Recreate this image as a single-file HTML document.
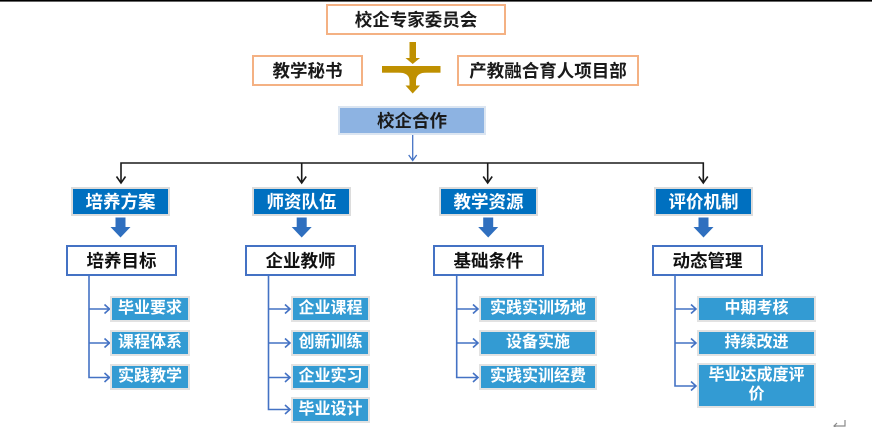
<!DOCTYPE html>
<html>
<head>
<meta charset="utf-8">
<style>
  html,body{margin:0;padding:0;}
  body{width:872px;height:427px;position:relative;background:#fff;overflow:hidden;
    font-family:"Liberation Sans","Noto Sans CJK SC","WenQuanYi Zen Hei",sans-serif;font-weight:bold;}
  .b{position:absolute;box-sizing:border-box;display:flex;align-items:center;justify-content:center;white-space:nowrap;}
  .org{border:2px solid #f4b183;background:#fff;color:#1a1a1a;font-size:17.5px;}
  .coop{border:2px solid #dbe5f1;background:#8db3e2;color:#1a1a1a;font-size:17.5px;}
  .cat{border:2px solid #dcdcdc;background:#0070c0;color:#fff;font-size:17.5px;}
  .l2{border:2px solid #4472c4;background:#fff;color:#111;font-size:17.5px;}
  .leaf{border:2px solid #e2e2e2;background:#339bd3;color:#fff;font-size:16px;line-height:18.5px;text-align:center;}
  svg{position:absolute;left:0;top:0;}
</style>
</head>
<body>
<svg width="872" height="427" viewBox="0 0 872 427">
  <!-- top black line -->
  <rect x="0" y="0" width="872" height="1.6" fill="#000"/>
  <!-- gold arrow -->
  <g fill="#bf9000">
    <rect x="409.5" y="42" width="6.5" height="16.5"/>
    <polygon points="405.5,58 420,58 412.7,64"/>
    <rect x="382" y="66" width="58.5" height="6.7"/>
    <path d="M398 72.5 Q409.5 72.5 409.5 81 L416 81 Q416 72.5 427 72.5 Z"/>
    <rect x="409.5" y="72" width="6.5" height="14"/>
    <polygon points="405.5,85.5 420,85.5 412.7,93.5"/>
  </g>
  <!-- blue thin arrow from 校企合作 -->
  <g stroke="#4472c4" stroke-width="1.3" fill="none">
    <line x1="412.7" y1="135" x2="412.7" y2="160.5"/>
    <polyline points="408.7,155 412.7,160.5 416.7,155"/>
  </g>
  <!-- black connectors -->
  <g stroke="#1a1a1a" stroke-width="1.6" fill="none">
    <polyline points="121,183 121,163 703.3,163 703.3,183"/>
    <line x1="301.7" y1="163" x2="301.7" y2="183"/>
    <line x1="487.7" y1="163" x2="487.7" y2="183"/>
    <polyline points="116.5,176.5 121,183 125.5,176.5"/>
    <polyline points="297.2,176.5 301.7,183 306.2,176.5"/>
    <polyline points="483.2,176.5 487.7,183 492.2,176.5"/>
    <polyline points="698.8,176.5 703.3,183 707.8,176.5"/>
  </g>
  <!-- blue block arrows -->
  <g fill="#2f6fbf">
    <path d="M115.5 217.5 h10 v9.5 h5 l-10 10.5 l-10 -10.5 h5 z"/>
    <path d="M296.7 217.5 h10 v9.5 h5 l-10 10.5 l-10 -10.5 h5 z"/>
    <path d="M483.2 217.5 h10 v9.5 h5 l-10 10.5 l-10 -10.5 h5 z"/>
    <path d="M698.5 217.5 h10 v9.5 h5 l-10 10.5 l-10 -10.5 h5 z"/>
  </g>
  <!-- leaf connectors -->
  <g stroke="#4472c4" stroke-width="1.6" fill="none">
    <polyline points="89,276 89,377.5 109.5,377.5"/>
    <line x1="89" y1="309" x2="109.5" y2="309"/>
    <line x1="89" y1="343" x2="109.5" y2="343"/>
    <polyline points="104.5,304.5 109.5,309 104.5,313.5"/>
    <polyline points="104.5,338.5 109.5,343 104.5,347.5"/>
    <polyline points="104.5,373 109.5,377.5 104.5,382"/>

    <polyline points="268.5,276 268.5,409.5 290,409.5"/>
    <line x1="268.5" y1="309" x2="290" y2="309"/>
    <line x1="268.5" y1="343" x2="290" y2="343"/>
    <line x1="268.5" y1="377.5" x2="290" y2="377.5"/>
    <polyline points="285,304.5 290,309 285,313.5"/>
    <polyline points="285,338.5 290,343 285,347.5"/>
    <polyline points="285,373 290,377.5 285,382"/>
    <polyline points="285,405 290,409.5 285,414"/>

    <polyline points="456.7,276 456.7,377.5 478,377.5"/>
    <line x1="456.7" y1="309" x2="478" y2="309"/>
    <line x1="456.7" y1="343" x2="478" y2="343"/>
    <polyline points="473,304.5 478,309 473,313.5"/>
    <polyline points="473,338.5 478,343 473,347.5"/>
    <polyline points="473,373 478,377.5 473,382"/>

    <polyline points="675,276 675,386 696,386"/>
    <line x1="675" y1="309" x2="696" y2="309"/>
    <line x1="675" y1="343" x2="696" y2="343"/>
    <polyline points="691,304.5 696,309 691,313.5"/>
    <polyline points="691,338.5 696,343 691,347.5"/>
    <polyline points="691,381.5 696,386 691,390.5"/>
  </g>
  <!-- return glyph -->
  <g stroke="#8a8a8a" stroke-width="1.2" fill="none">
    <polyline points="845,420 845,426 834,426"/>
    <polyline points="837,423 834,426 837,429"/>
  </g>
</svg>

<div class="b org" style="left:326px;top:4px;width:180px;height:31px;">校企专家委员会</div>
<div class="b org" style="left:252px;top:55px;width:111px;height:31px;">教学秘书</div>
<div class="b org" style="left:457px;top:55px;width:182px;height:31px;">产教融合育人项目部</div>
<div class="b coop" style="left:338px;top:106px;width:148px;height:29px;">校企合作</div>

<div class="b cat" style="left:71px;top:187px;width:99px;height:29px;">培养方案</div>
<div class="b cat" style="left:252px;top:187px;width:99px;height:29px;">师资队伍</div>
<div class="b cat" style="left:439px;top:187px;width:99px;height:29px;">教学资源</div>
<div class="b cat" style="left:654px;top:187px;width:99px;height:29px;">评价机制</div>

<div class="b l2" style="left:66px;top:245px;width:111px;height:31px;">培养目标</div>
<div class="b l2" style="left:245px;top:245px;width:111px;height:31px;">企业教师</div>
<div class="b l2" style="left:433px;top:245px;width:111px;height:31px;">基础条件</div>
<div class="b l2" style="left:652px;top:245px;width:111px;height:31px;">动态管理</div>

<div class="b leaf" style="left:110px;top:296px;width:80px;height:26px;">毕业要求</div>
<div class="b leaf" style="left:110px;top:330px;width:80px;height:26px;">课程体系</div>
<div class="b leaf" style="left:110px;top:364px;width:80px;height:26px;">实践教学</div>

<div class="b leaf" style="left:291px;top:296px;width:79px;height:26px;">企业课程</div>
<div class="b leaf" style="left:291px;top:330px;width:79px;height:26px;">创新训练</div>
<div class="b leaf" style="left:291px;top:364px;width:79px;height:26px;">企业实习</div>
<div class="b leaf" style="left:291px;top:397px;width:79px;height:26px;">毕业设计</div>

<div class="b leaf" style="left:479px;top:296px;width:118px;height:26px;">实践实训场地</div>
<div class="b leaf" style="left:479px;top:330px;width:118px;height:26px;">设备实施</div>
<div class="b leaf" style="left:479px;top:364px;width:118px;height:26px;">实践实训经费</div>

<div class="b leaf" style="left:697px;top:296px;width:119px;height:26px;">中期考核</div>
<div class="b leaf" style="left:697px;top:330px;width:119px;height:26px;">持续改进</div>
<div class="b leaf" style="left:697px;top:363px;width:119px;height:45px;">毕业达成度评<br>价</div>
</body>
</html>
